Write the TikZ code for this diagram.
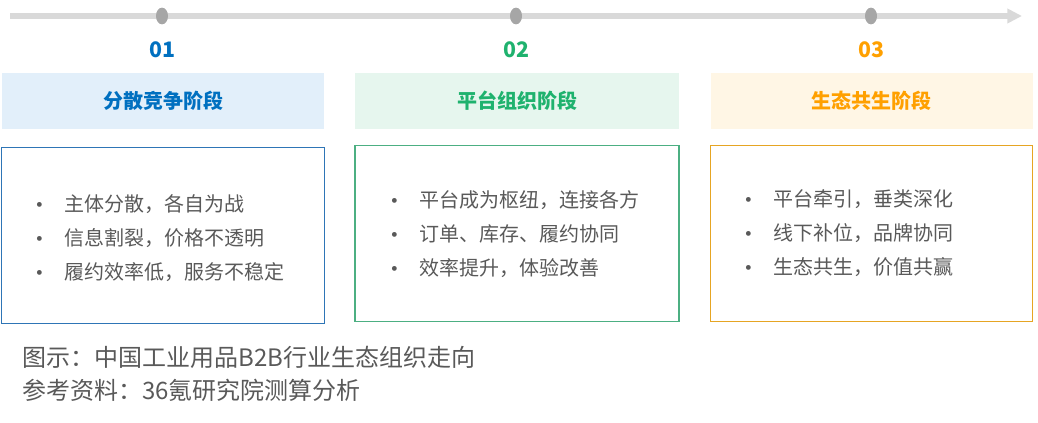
\documentclass[tikz,border=0pt]{standalone}
\usepackage{fontspec}
\setmainfont{Noto Sans CJK SC}
\usepackage{xcolor}
\usepackage{tikz}
\usetikzlibrary{arrows.meta,shapes.geometric}
\definecolor{tlgray}{HTML}{D9D9D9}
\definecolor{dotgray}{HTML}{A6A6A6}
\definecolor{txtgray}{HTML}{595959}
\definecolor{cblue}{HTML}{0070C0}
\definecolor{cgreen}{HTML}{1FB26E}
\definecolor{corange}{HTML}{FFA000}
\definecolor{fblue}{HTML}{E2EFFA}
\definecolor{fgreen}{HTML}{E6F6EE}
\definecolor{forange}{HTML}{FFF6E5}
\definecolor{bblue}{HTML}{2E75B6}
\definecolor{bgreen}{HTML}{4CAF82}
\definecolor{borange}{HTML}{E6A523}

\begin{document}
\begin{tikzpicture}[x=0.75pt, y=-0.75pt,
  dot/.style={ellipse, fill=dotgray, inner sep=0pt, minimum width=9pt, minimum height=12.5pt},
  num/.style={font=\fontsize{16}{18}\selectfont\bfseries},
  hdr/.style={inner sep=0pt, minimum width=241.5pt, minimum height=42pt,
              font=\fontsize{15}{18}\selectfont\bfseries},
  card/.style={inner sep=0pt, minimum width=242pt, minimum height=132pt, line width=0.9pt},
  items/.style={anchor=west, align=left, text=txtgray, inner sep=0pt,
                font=\fontsize{15}{25.5}\selectfont},
  dots/.style={anchor=center, align=center, text=txtgray, inner sep=0pt,
               font=\fontsize{17}{25.5}\selectfont},
  foot/.style={anchor=west, text=txtgray, inner sep=0pt, font=\fontsize{18}{22}\selectfont}]
  \useasboundingbox (0,0) rectangle (1038,422);

  % timeline
  \coordinate (tlstart) at (10,16);
  \coordinate (tlend) at (1022,16);
  \draw[tlgray, line width=3.8pt, -{Triangle[length=11pt, width=10.5pt]}] (tlstart) -- (tlend);
  \node[dot] (d1) at (162,16) {};
  \node[dot] (d2) at (516,16) {};
  \node[dot] (d3) at (871,16) {};

  % stage numbers
  \node[num, text=cblue] (n1) at (162,50) {01};
  \node[num, text=cgreen] (n2) at (516,50) {02};
  \node[num, text=corange] (n3) at (871,50) {03};

  % stage headers
  \node[hdr, fill=fblue, text=cblue] (h1) at (163,101) {分散竞争阶段};
  \node[hdr, fill=fgreen, text=cgreen, minimum width=243pt] (h2) at (517,101) {平台组织阶段};
  \node[hdr, fill=forange, text=corange] (h3) at (871.5,101) {生态共生阶段};

  % stage cards
  \node[card, draw=bblue] (c1) at (163,235.5) {};
  \node[card, draw=bgreen, minimum width=243pt] (c2) at (517,233.5) {};
  \node[card, draw=borange] (c3) at (871.5,233.5) {};

  \node[dots] (b1) at (40,242) {•\\•\\•};
  \node[items] (t1) at (64,238) {主体分散，各自为战\\信息割裂，价格不透明\\履约效率低，服务不稳定};
  \node[dots] (b2) at (395,238) {•\\•\\•};
  \node[items] (t2) at (419,234) {平台成为枢纽，连接各方\\订单、库存、履约协同\\效率提升，体验改善};
  \node[dots] (b3) at (749,237) {•\\•\\•};
  \node[items] (t3) at (773,233) {平台牵引，垂类深化\\线下补位，品牌协同\\生态共生，价值共赢};

  % footnotes
  \node[foot] (f1) at (22,357) {图示：中国工业用品B2B行业生态组织走向};
  \node[foot] (f2) at (22,390) {参考资料：36氪研究院测算分析};
\end{tikzpicture}
\end{document}
